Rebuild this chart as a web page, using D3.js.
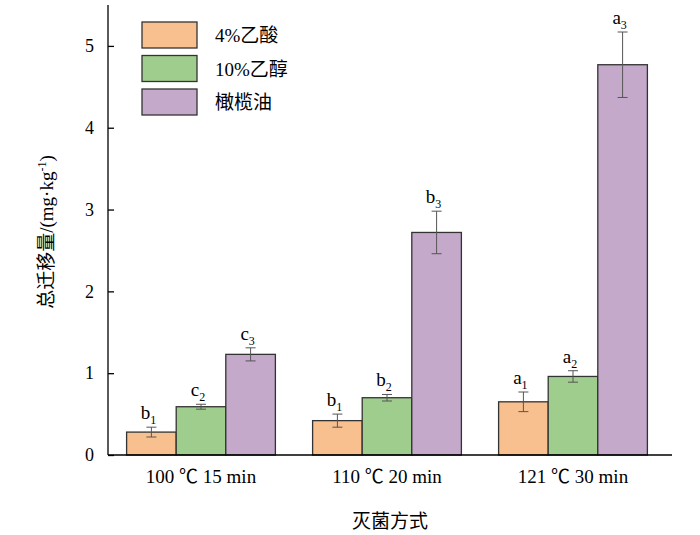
<!DOCTYPE html><html><head><meta charset="utf-8"><script src="https://cdn.jsdelivr.net/npm/d3@7"></script>
<style>body{margin:0;background:#fff}text{font-family:"Liberation Serif","Noto Sans CJK SC",serif}</style></head><body><svg id="c" width="700" height="535"></svg>
<script>
const categories=["100 ℃ 15 min","110 ℃ 20 min","121 ℃ 30 min"];
const seriesNames=["4%乙酸","10%乙醇","橄榄油"];
const colors=["#f8c08f","#9fcd8e","#c4a9cb"];
const values=[[0.28,0.59,1.23],[0.42,0.70,2.72],[0.65,0.96,4.77]];
const errors=[[0.06,0.03,0.08],[0.08,0.04,0.26],[0.12,0.07,0.40]];
const letters=[[["b","1"],["c","2"],["c","3"]],[["b","1"],["b","2"],["b","3"]],[["a","1"],["a","2"],["a","3"]]];
const yTicks=[0,1,2,3,4,5];
const svg=d3.select("#c");
const L=108,R=672,T=5,B=455;
const y=d3.scaleLinear().domain([0,5.5]).range([B,T]);
const x=d3.scaleBand().domain(categories).range([L,L+558]).paddingInner(0.2).paddingOuter(0.1);
const xs=d3.scaleBand().domain([0,1,2]).range([0,x.bandwidth()]);
categories.forEach((c,i)=>{
 const g=svg.append("g").attr("transform",`translate(${x(c)},0)`);
 [0,1,2].forEach(j=>{
  const v=values[i][j],e=errors[i][j],bx=xs(j),bw=xs.bandwidth(),cx=bx+bw/2;
  g.append("rect").attr("x",bx).attr("y",y(v)).attr("width",bw).attr("height",B-y(v)).attr("fill",colors[j]).attr("stroke","#333").attr("stroke-width",1.3);
  g.append("line").attr("x1",cx).attr("x2",cx).attr("y1",y(v+e)).attr("y2",y(v-e)).attr("stroke","#555");
  [v+e,v-e].forEach(t=>g.append("line").attr("x1",cx-5).attr("x2",cx+5).attr("y1",y(t)).attr("y2",y(t)).attr("stroke","#555"));
  const t=g.append("text").attr("x",cx-3).attr("y",y(v+e)-8).attr("text-anchor","middle").attr("font-size",19).text(letters[i][j][0]);
  t.append("tspan").attr("dy",5).attr("font-size",12).text(letters[i][j][1]);
 });
});
const ya=svg.append("g").attr("transform",`translate(${L},0)`).call(d3.axisRight(y).tickValues(yTicks).tickSize(6).tickFormat(d3.format("d")));
ya.select(".domain").attr("d",`M0,${T}V${B}`).attr("stroke-width",1.3);
ya.selectAll("text").attr("x",-14).attr("text-anchor","end").attr("font-size",18).attr("fill","#000");
ya.selectAll("line").attr("stroke-width",1.3);
svg.append("line").attr("x1",L).attr("x2",R).attr("y1",B).attr("y2",B).attr("stroke","#000").attr("stroke-width",1.3);
categories.forEach(c=>svg.append("text").attr("x",x(c)+x.bandwidth()/2).attr("y",B+28).attr("text-anchor","middle").attr("font-size",19).text(c));
svg.append("text").attr("x",390).attr("y",528).attr("text-anchor","middle").attr("font-size",19).attr("font-family","Noto Sans CJK SC").text("灭菌方式");
const yl=svg.append("text").attr("transform","translate(53,232) rotate(-90)").attr("text-anchor","middle").attr("font-size",19).attr("font-family","Noto Sans CJK SC");
yl.append("tspan").text("总迁移量/(mg·kg");yl.append("tspan").attr("dy",-7).attr("font-size",12).text("-1");yl.append("tspan").attr("dy",7).text(")");
seriesNames.forEach((s,j)=>{
 svg.append("rect").attr("x",142).attr("y",22+j*33.5).attr("width",55).attr("height",26).attr("fill",colors[j]).attr("stroke","#333").attr("stroke-width",1.3);
 svg.append("text").attr("x",215).attr("y",42+j*33.5).attr("font-size",19).text(s);
});
</script></body></html>
